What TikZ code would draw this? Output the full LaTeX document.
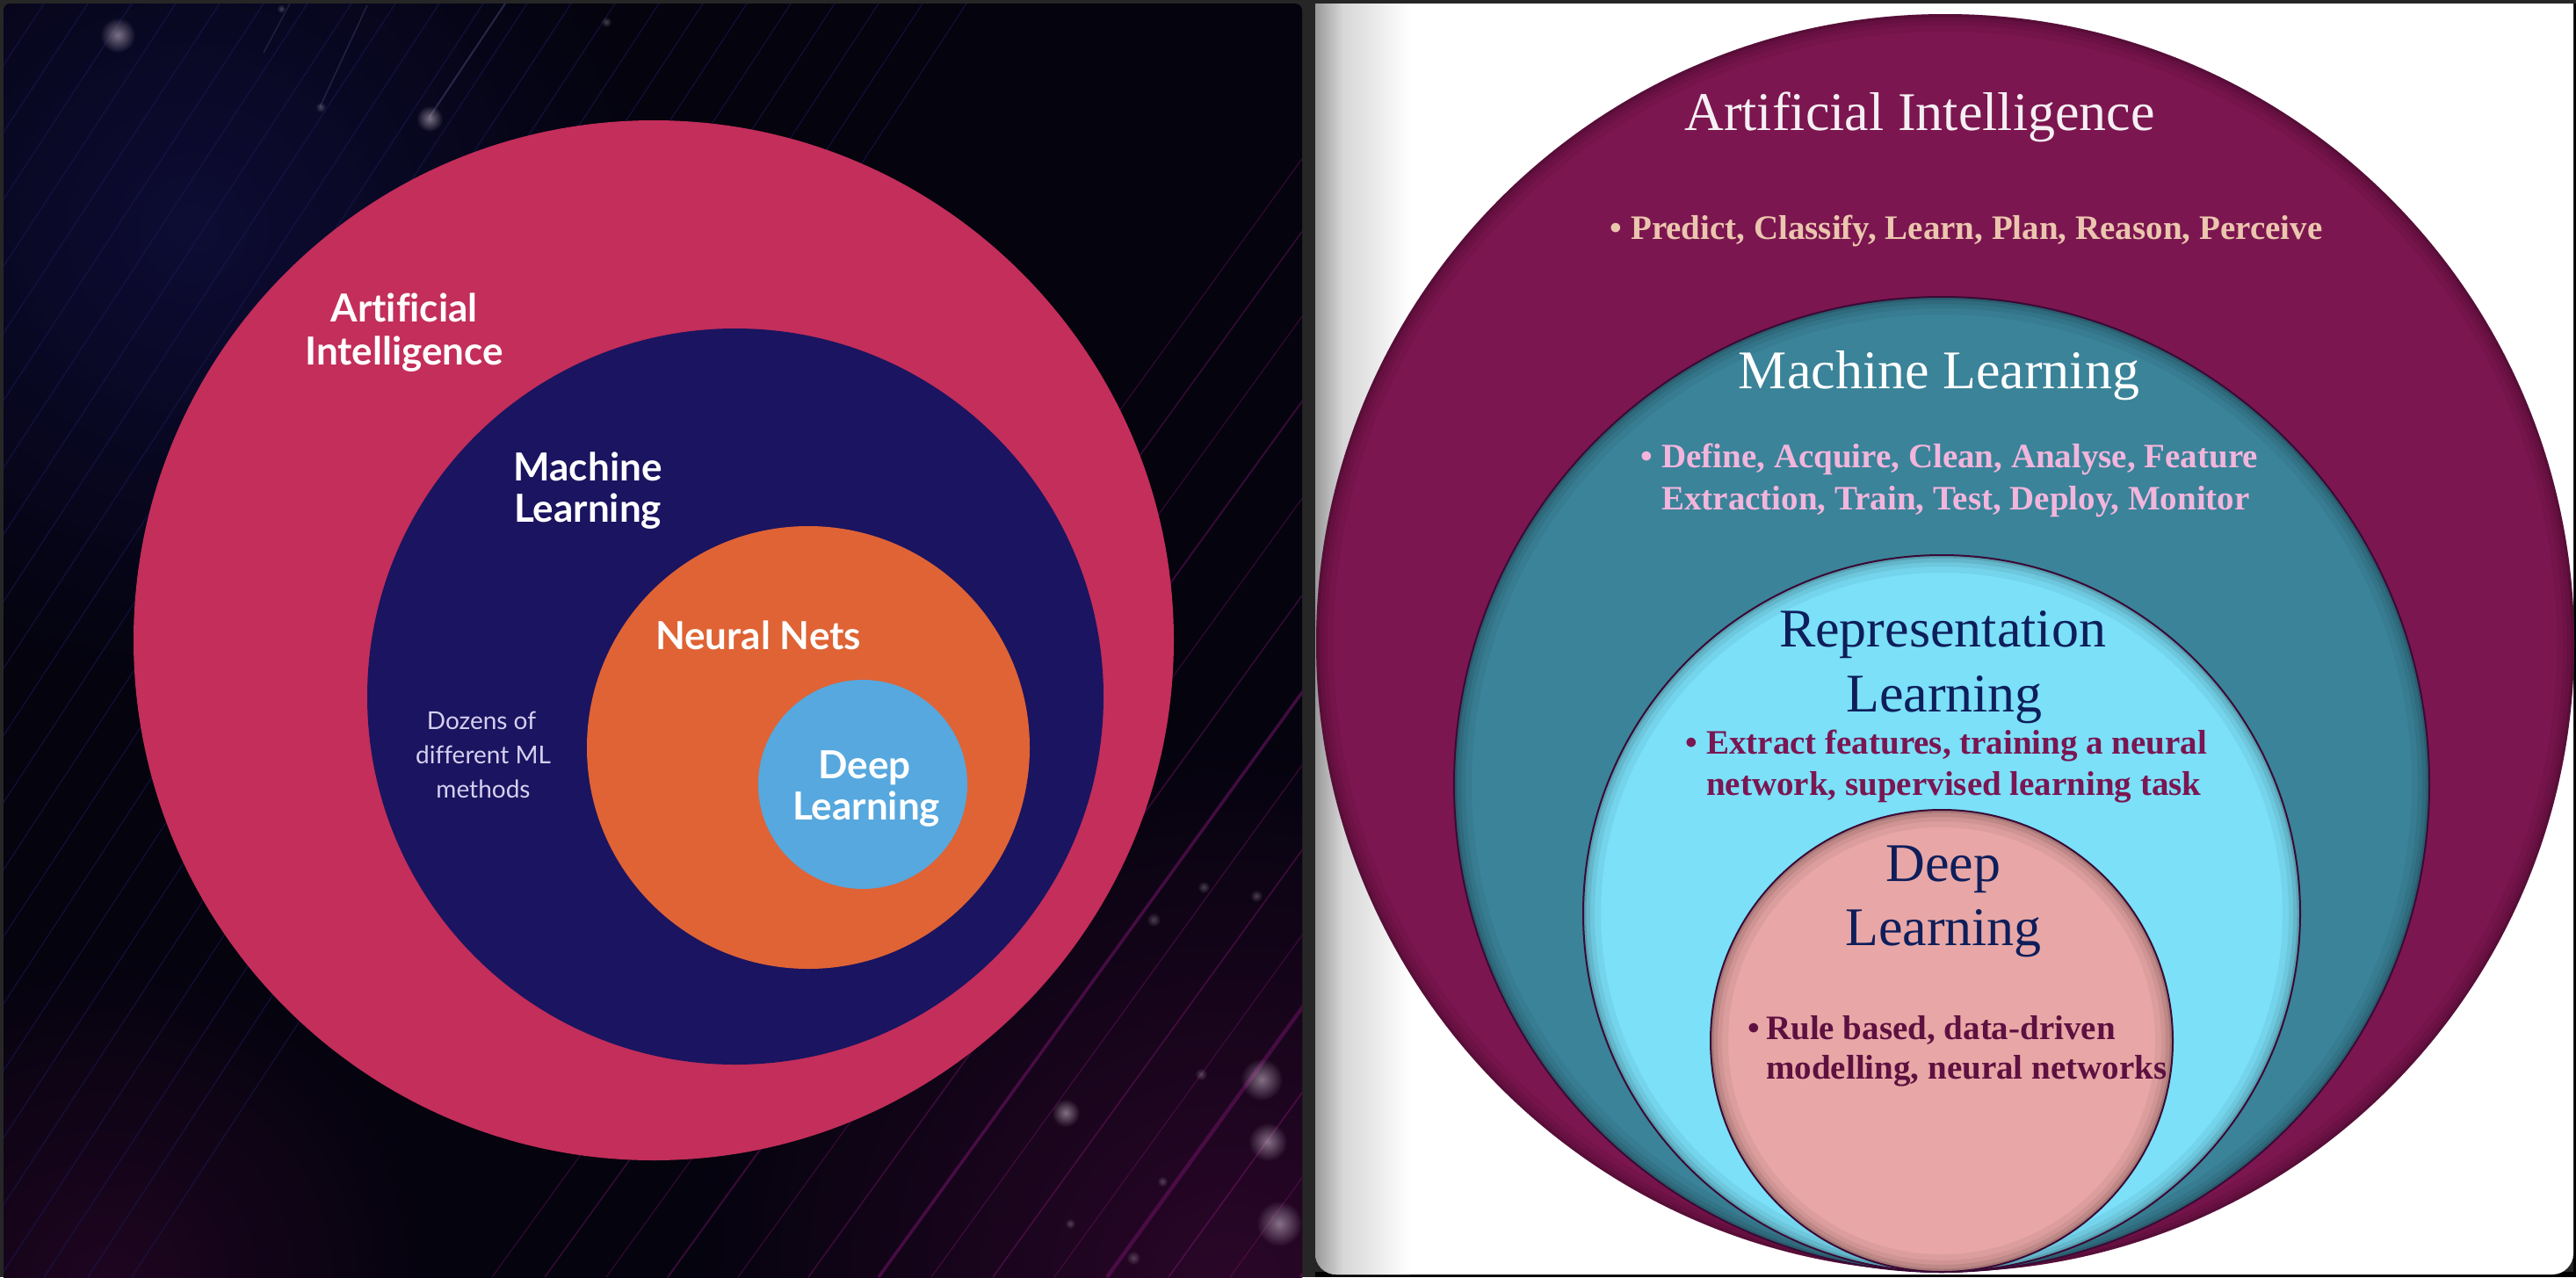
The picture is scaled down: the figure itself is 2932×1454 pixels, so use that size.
\documentclass[tikz,border=0pt]{standalone}
\usepackage{fontspec}
\setmainfont{Liberation Serif}
\newfontfamily\latofont{Lato}[Ligatures=NoCommon]
\usetikzlibrary{fadings}

\definecolor{framegray}{HTML}{262626}
\definecolor{bgdark}{HTML}{04030E}
\definecolor{glowpurple}{HTML}{2A0628}
\definecolor{glownavy}{HTML}{0D0C34}
\definecolor{linemag}{HTML}{6A1260}
\definecolor{linenavy}{HTML}{1C1A58}
\definecolor{glowc}{HTML}{D8C8D8}
\definecolor{aipink}{HTML}{C32E5A}
\definecolor{mlnavy}{HTML}{1B1460}
\definecolor{nnorange}{HTML}{DF6335}
\definecolor{dlblue}{HTML}{56A8DE}
\definecolor{smalltxt}{HTML}{D5D0F0}
\definecolor{rmaroon}{HTML}{7C1650}
\definecolor{rteal}{HTML}{3A8399}
\definecolor{rcyan}{HTML}{7BE0F8}
\definecolor{rpink}{HTML}{E8A7A6}
\definecolor{ringline}{HTML}{3A0A35}
\definecolor{titlelight}{HTML}{F5EFF3}
\definecolor{peach}{HTML}{EBC6AE}
\definecolor{pinktxt}{HTML}{F2B5DC}
\definecolor{navytxt}{HTML}{0E1E5B}
\definecolor{maroontxt}{HTML}{7A1652}
\definecolor{darkmaroontxt}{HTML}{5E1040}

\tikzfading[name=glowfade, inner color=transparent!0, outer color=transparent!100]

\newcommand{\innershade}[2]{%
  \begin{scope}
    \clip (#1) circle (#2);
    \foreach \w/\o in {40/0.05,26/0.06,16/0.08,7/0.12}{%
      \draw[black, opacity=\o, line width=\w pt] (#1) circle (#2);}
  \end{scope}}

\begin{document}
\begin{tikzpicture}[x=1pt, y=-1pt,
  lbl/.style={font=\latofont\bfseries\fontsize{44}{50}\selectfont, text=white, anchor=base, inner sep=0pt},
  smalllbl/.style={font=\latofont\fontsize{28}{34}\selectfont, text=smalltxt, anchor=base, inner sep=0pt},
  rtitle/.style={font=\fontsize{62}{70}\selectfont, anchor=base, inner sep=0pt},
  rbul/.style={font=\bfseries\fontsize{39}{47}\selectfont, anchor=base west, inner sep=0pt},
  ring/.style={draw=ringline, line width=2pt},
  glow/.style={fill=glowc, fill opacity=0.55, path fading=glowfade},
  star/.style={fill=glowc, fill opacity=0.3, path fading=glowfade}
]
\useasboundingbox (0,0) rectangle (2932,1454);
\fill[framegray] (0,0) rectangle (2932,1454);

% ---------------- left panel ----------------
\begin{scope}
  \clip[rounded corners=8pt] (4,4) rectangle (1482,1470);
  \fill[bgdark] (0,0) rectangle (1490,1460);
  \shade[inner color=glownavy, outer color=bgdark] (220,260) circle (520);
  \shade[inner color=glowpurple, outer color=bgdark] (1400,1460) circle (620);
  \shade[inner color=glowpurple!70!bgdark, outer color=bgdark] (120,1460) circle (380);
  \foreach \x in {-950,-900,...,150}{%
    \draw[linenavy, line width=1.3pt, opacity=0.55] (\x,1454) -- ++(950,-1450);}
  \foreach \x/\w/\o in {560/1.2/0.45,620/1.5/0.5,690/1.2/0.45,760/2/0.5,840/1.2/0.45,
      920/1.5/0.5,1000/3.5/0.6,1060/1.2/0.5,1130/1.6/0.55,1200/1.2/0.45,1260/4.5/0.55,
      1330/1.6/0.6,1400/1.2/0.5,1480/3/0.6,1560/1.4/0.55,1650/2.5/0.55,1750/1.4/0.5,1850/2/0.5}{%
    \draw[linemag, line width=\w pt, opacity=\o] (\x,1454) -- ++(1050,-1450);}
  \draw[linenavy!80!white, line width=2pt, opacity=0.5] (575,4) -- (489,133);
  \draw[linenavy!80!white, line width=1.5pt, opacity=0.4] (418,6) -- (364,122);
  \draw[linenavy!80!white, line width=1.5pt, opacity=0.35] (330,4) -- (300,60);
  \fill[glow] (134,40) circle (20);
  \fill[glow] (489,135) circle (15);
  \fill[star] (365,122) circle (6);
  \fill[star] (320,10) circle (5);
  \fill[star] (690,25) circle (6);
  \fill[glow] (1436,1229) circle (24);
  \fill[glow] (1443,1300) circle (22);
  \fill[glow] (1456,1393) circle (26);
  \fill[glow] (1213,1267) circle (16);
  \fill[star] (1313,1047) circle (8);
  \fill[star] (1370,1010) circle (7);
  \fill[star] (1430,1020) circle (7);
  \fill[star] (1367,1223) circle (7);
  \fill[star] (1290,1432) circle (8);
  \fill[star] (1323,1345) circle (6);
  \fill[star] (1218,1393) circle (6);
  \fill[star] (1490,1275) circle (7);
\end{scope}

\coordinate (lAI) at (744,729);
\coordinate (lML) at (837,793);
\coordinate (lNN) at (920,851);
\coordinate (lDL) at (982,893);
\fill[aipink] (lAI) circle (592);
\fill[mlnavy] (lML) circle (419);
\fill[nnorange] (lNN) circle (252);
\fill[dlblue] (lDL) circle (119);

\node[lbl] (aiLab1) at (460,366) {Artificial};
\node[lbl] (aiLab2) at (460,415) {Intelligence};
\node[lbl] (mlLab1) at (669,547) {Machine};
\node[lbl] (mlLab2) at (669,594) {Learning};
\node[lbl] (nnLab) at (863,739) {Neural Nets};
\node[lbl] (dlLab1) at (984,886) {Deep};
\node[lbl] (dlLab2) at (986,933) {Learning};
\node[smalllbl] (dzLab1) at (548,830) {Dozens of};
\node[smalllbl] (dzLab2) at (550,869) {different ML};
\node[smalllbl] (dzLab3) at (550,908) {methods};

% ---------------- right panel ----------------
\fill[black] (1497,1448) rectangle (2932,1454);
\fill[black] (2929,4) rectangle (2932,1454);
\begin{scope}
  \clip (1490,4) rectangle (2929,1460);
  \clip[rounded corners=24pt] (1497,-40) rectangle (2929,1451);
  \fill[white] (1490,0) rectangle (2940,1460);
  \shade[left color=black!40, right color=black!16] (1497,0) rectangle (1528,1460);
  \shade[left color=black!16, right color=white] (1528,0) rectangle (1605,1460);
\end{scope}

\coordinate (rAI) at (2214,732);
\coordinate (rML) at (2210,893);
\coordinate (rRL) at (2210,1040);
\coordinate (rDL) at (2210,1185);

\fill[rmaroon] (rAI) circle (716);
\innershade{rAI}{716}
\fill[rteal] (rML) circle (555);
\innershade{rML}{555}
\draw[ring] (rML) circle (555);
\fill[rcyan] (rRL) circle (408);
\innershade{rRL}{408}
\draw[ring] (rRL) circle (408);
\fill[rpink] (rDL) circle (263);
\innershade{rDL}{263}
\draw[ring] (rDL) circle (263);

\node[rtitle, text=titlelight] (aiTitle) at (2185,148) {Artificial Intelligence};
\node[rbul, text=peach] (aiBul) at (1832,272) {\textbullet};
\node[rbul, text=peach] (aiTxt) at (1856,272) {Predict, Classify, Learn, Plan, Reason, Perceive};

\node[rtitle, text=white] (mlTitle) at (2207,442) {Machine Learning};
\node[rbul, text=pinktxt] (mlBul) at (1867,532) {\textbullet};
\node[rbul, text=pinktxt] (mlTxt1) at (1891,532) {Define, Acquire, Clean, Analyse, Feature};
\node[rbul, text=pinktxt] (mlTxt2) at (1891,580) {Extraction, Train, Test, Deploy, Monitor};

\node[rtitle, text=navytxt] (rlTitle1) at (2211,736) {Representation};
\node[rtitle, text=navytxt] (rlTitle2) at (2213,810) {Learning};
\node[rbul, text=maroontxt] (rlBul) at (1918,858) {\textbullet};
\node[rbul, text=maroontxt] (rlTxt1) at (1942,858) {Extract features, training a neural};
\node[rbul, text=maroontxt] (rlTxt2) at (1942,905) {network, supervised learning task};

\node[rtitle, text=navytxt] (dlTitle1) at (2212,1003) {Deep};
\node[rtitle, text=navytxt] (dlTitle2) at (2212,1076) {Learning};
\node[rbul, text=darkmaroontxt] (dlBul) at (1989,1183) {\textbullet};
\node[rbul, text=darkmaroontxt] (dlTxt1) at (2010,1183) {Rule based, data-driven};
\node[rbul, text=darkmaroontxt] (dlTxt2) at (2010,1228) {modelling, neural networks};
\end{tikzpicture}
\end{document}
